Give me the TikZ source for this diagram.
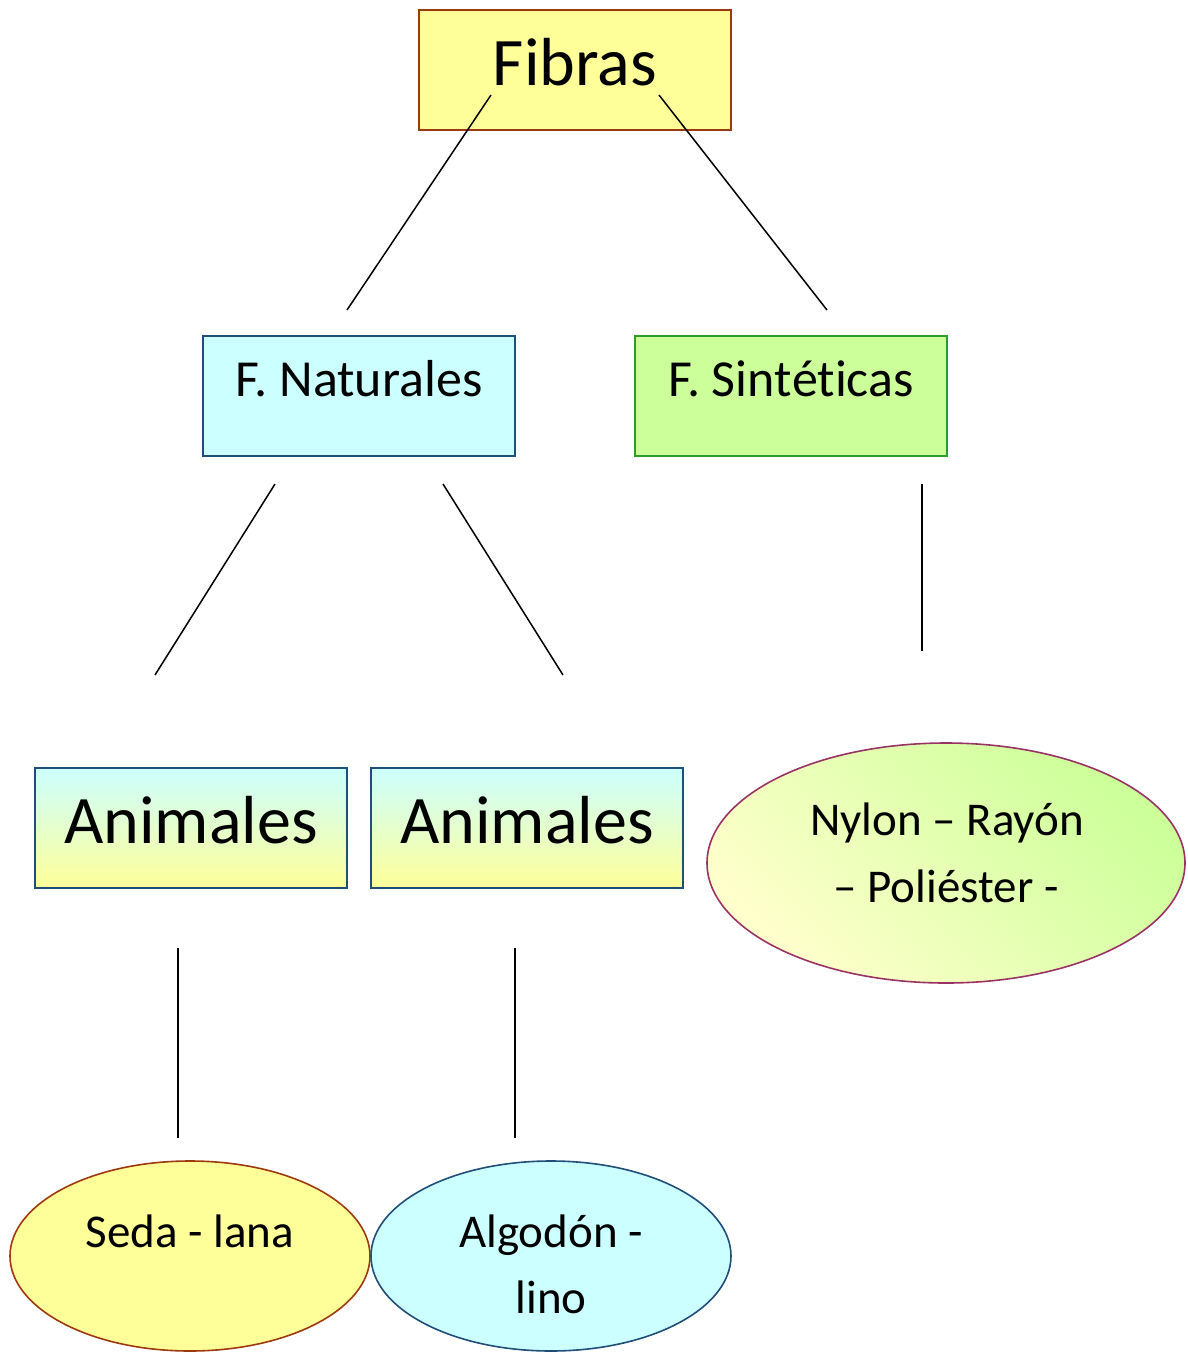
\documentclass[tikz,border=0pt]{standalone}
\usepackage{fontspec}
\setmainfont[Ligatures=NoCommon]{Carlito}
\usetikzlibrary{shapes.geometric}
\definecolor{cYellow}{HTML}{FFFF99}
\definecolor{cCyan}{HTML}{CCFFFF}
\definecolor{cGreen}{HTML}{CCFF99}
\definecolor{cLightYel}{HTML}{FFFFCC}
\definecolor{bBrown}{HTML}{9C3A0E}
\definecolor{bBlue}{HTML}{1F4E79}
\definecolor{bGreen}{HTML}{2E9B2E}
\definecolor{bPurple}{HTML}{993366}
\tikzset{
  box/.style={rectangle, minimum width=312pt, minimum height=120pt, inner sep=0pt, line width=1.8pt},
  ell/.style={ellipse, inner sep=0pt, line width=1.6pt},
  big/.style={font=\fontsize{68}{80}\selectfont},
  mid/.style={font=\fontsize{52}{62}\selectfont},
  small/.style={font=\fontsize{47}{56}\selectfont, anchor=base, inner sep=0pt},
  conn/.style={line width=1.5pt, black},
}
\begin{document}
\begin{tikzpicture}[x=1pt,y=-1pt]
\useasboundingbox (0,0) rectangle (1187,1353);
% boxes
\node[box, big, draw=bBrown, fill=cYellow, text height=45pt, text depth=15pt] (fibras) at (575,70) {Fibras};
\node[box, mid, draw=bBlue, fill=cCyan, text height=20pt, text depth=20pt] (nat) at (359,396) {F. Naturales};
\node[box, mid, draw=bGreen, fill=cGreen, text height=20pt, text depth=20pt] (sint) at (791,396) {F. Sint\kern0pt éticas};
\node[box, big, draw=bBlue, top color=cCyan, bottom color=cYellow, text height=45pt, text depth=15pt] (anim1) at (191,828) {Animales};
\node[box, big, draw=bBlue, top color=cCyan, bottom color=cYellow, text height=45pt, text depth=15pt] (anim2) at (527,828) {Animales};
% ellipses
\node[ell, draw=bPurple, top color=cGreen, bottom color=cLightYel, shading angle=-45, minimum width=478pt, minimum height=240pt] (nylon) at (946,863) {};
\node[small] (nylon1) at (947,835) {Nylon – Rayón};
\node[small] (nylon2) at (946,902) {– Poliéster -};
\node[ell, draw=bBrown, fill=cYellow, minimum width=360pt, minimum height=190pt] (seda) at (190,1256) {};
\node[small] (sedatxt) at (190,1247) {Seda - lana};
\node[ell, draw=bBlue, fill=cCyan, minimum width=360pt, minimum height=190pt] (algo) at (551,1256) {};
\node[small] (algo1) at (551,1247) {Algodón -};
\node[small] (algo2) at (551,1313) {lino};
% connector ends
\coordinate (a1) at (491,95);  \coordinate (a2) at (347,310);
\coordinate (b1) at (659,95);  \coordinate (b2) at (827,310);
\coordinate (c1) at (275,484); \coordinate (c2) at (155,675);
\coordinate (d1) at (443,484); \coordinate (d2) at (563,675);
\coordinate (e1) at (922,484); \coordinate (e2) at (922,651);
\coordinate (f1) at (178,948); \coordinate (f2) at (178,1138);
\coordinate (g1) at (515,948); \coordinate (g2) at (515,1138);
\draw[conn] (a1) -- (a2);
\draw[conn] (b1) -- (b2);
\draw[conn] (c1) -- (c2);
\draw[conn] (d1) -- (d2);
\draw[conn] (e1) -- (e2);
\draw[conn] (f1) -- (f2);
\draw[conn] (g1) -- (g2);
\end{tikzpicture}
\end{document}
